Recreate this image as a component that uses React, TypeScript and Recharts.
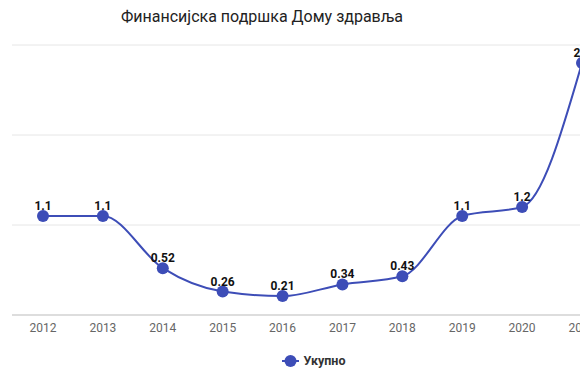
import { LineChart, Line, CartesianGrid, XAxis, YAxis, Legend, LabelList } from 'recharts';

const years = ['2012', '2013', '2014', '2015', '2016', '2017', '2018', '2019', '2020', '2021'];
const totals = [1.1, 1.1, 0.52, 0.26, 0.21, 0.34, 0.43, 1.1, 1.2, 2.8];
const yTicks = [0, 1, 2, 3];

const data = years.map((year, i) => ({ year, total: totals[i] }));

const COLOR = '#3d4db7';
const FONT = 'Roboto, "Noto Sans", sans-serif';

const renderLegend = () => (
    <div style={{ display: 'flex', justifyContent: 'center', alignItems: 'center', fontFamily: FONT, paddingTop: 8, paddingLeft: 2 }}>
        <svg width={17} height={14} style={{ marginRight: 5 }}>
            <line x1={0} y1={7} x2={17} y2={7} stroke={COLOR} strokeWidth={2} />
            <circle cx={8.5} cy={7} r={6} fill={COLOR} />
        </svg>
        <span style={{ fontSize: 12.5, fontWeight: 700, color: '#333' }}>Укупно</span>
    </div>
);

export default function App() {
    return (
        <div style={{ position: 'fixed', left: 0, top: 0, width: 580, height: 386, overflow: 'hidden', background: '#fff' }}>
            <div style={{ position: 'absolute', left: 0, width: 524, top: 7, textAlign: 'center', fontFamily: FONT, fontSize: 16, color: '#222' }}>
                Финансијска подршка Дому здравља
            </div>
            <LineChart width={620} height={386} data={data} margin={{ top: 45, right: 7, bottom: 11, left: 12 }}>
                <CartesianGrid vertical={false} stroke="#e6e6e6" />
                <XAxis
                    dataKey="year"
                    padding={{ left: 31, right: 31 }}
                    tickLine={false}
                    axisLine={{ stroke: '#dddddd', strokeWidth: 2 }}
                    height={30}
                    tick={{ fill: '#666', fontSize: 12, fontFamily: FONT }}
                />
                <YAxis hide domain={[0, 3]} ticks={yTicks} />
                <Legend verticalAlign="bottom" height={30} content={renderLegend} />
                <Line
                    type="monotone"
                    dataKey="total"
                    name="Укупно"
                    stroke={COLOR}
                    strokeWidth={2}
                    dot={{ r: 6, fill: COLOR, stroke: COLOR, strokeWidth: 0 }}
                    activeDot={false}
                    isAnimationActive={false}
                >
                    <LabelList dataKey="total" position="top" offset={6} style={{ fontSize: 12, fontWeight: 700, fill: '#111', fontFamily: FONT }} />
                </Line>
            </LineChart>
        </div>
    );
}
